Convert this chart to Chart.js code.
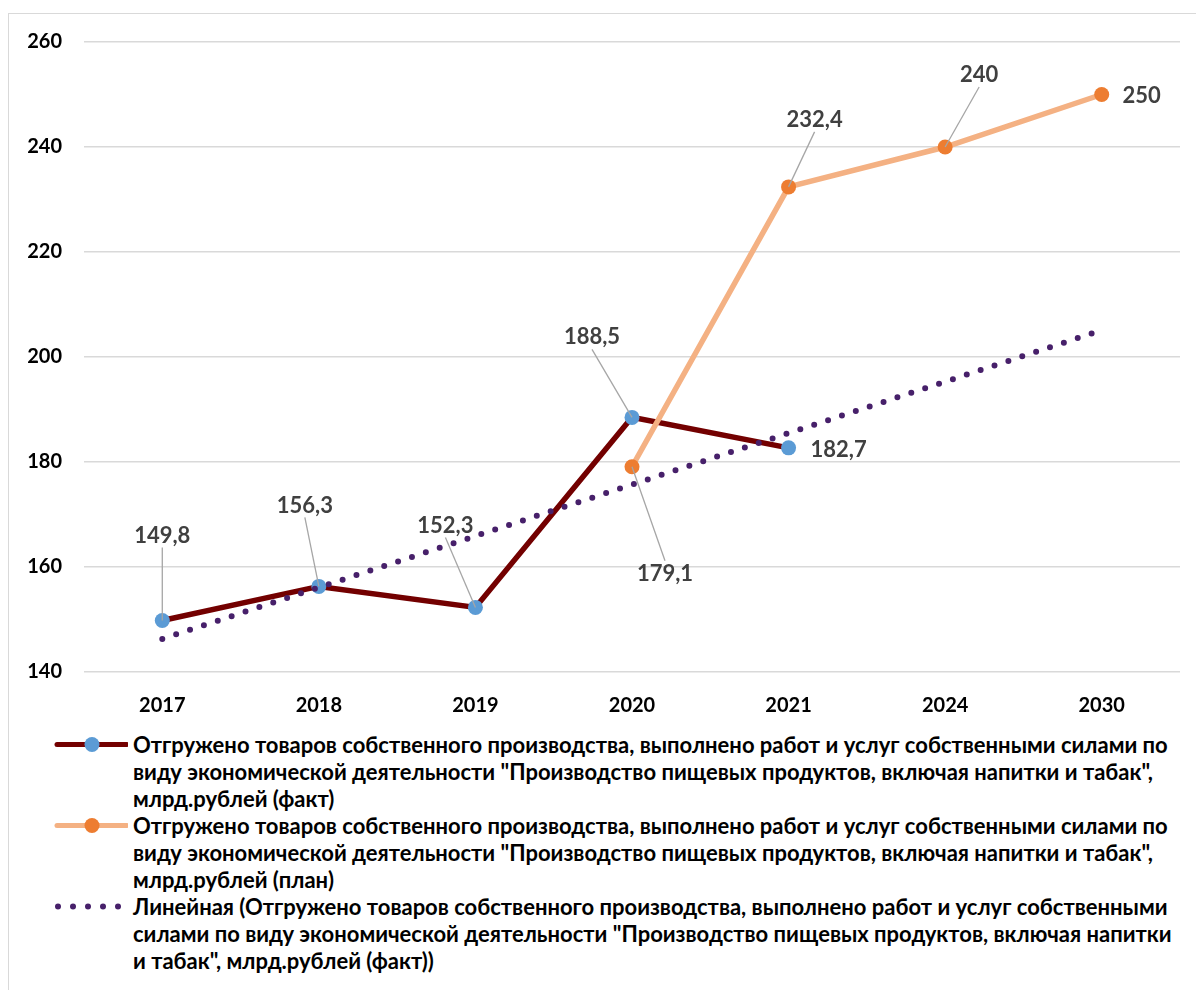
<!DOCTYPE html>
<html>
<head>
<meta charset="utf-8">
<script src="https://cdn.jsdelivr.net/npm/chart.js@4.4.1/dist/chart.umd.min.js"></script>
<style>
  body { margin: 0; background: #fff; }
  #wrap { position: relative; width: 1196px; height: 990px; overflow: hidden; font-family: Lato, sans-serif; }
  #frame { position: absolute; left: 8px; top: 13px; width: 1220px; height: 1000px; border: 1.5px solid #d9d9d9; box-sizing: border-box; }
  #chart_out { position: absolute; left: 0; top: 0; }
  #legend { position: absolute; left: 0; top: 731px; width: 1196px; }
  .lg-item { position: relative; padding-left: 133px; font-weight: bold; font-size: 22px; line-height: 27px; color: #000; white-space: nowrap; }
  .lg-item svg { position: absolute; left: 48px; top: 0; }
</style>
</head>
<body>
<div id="wrap">
  <div id="frame"></div>
  <canvas id="chart_out" width="1196" height="730"></canvas>
  <div id="legend"></div>
</div>
<script>
/* jshint esversion:6*/
const years = ['2017', '2018', '2019', '2020', '2021', '2024', '2030'];
const fact_values = [149.8, 156.3, 152.3, 188.5, 182.7, null, null];
const plan_values = [null, null, null, 179.1, 232.4, 240, 250];
const trend_values = [146.3, 156.1, 165.9, 175.7, 185.5, 195.3, 205.1];
const y_ticks = [140, 160, 180, 200, 220, 240, 260];

const legend_fact = [
  'Отгружено товаров собственного производства, выполнено работ и услуг собственными силами по',
  'виду экономической деятельности "Производство пищевых продуктов, включая напитки и табак",',
  'млрд.рублей (факт)'
];
const legend_plan = [
  'Отгружено товаров собственного производства, выполнено работ и услуг собственными силами по',
  'виду экономической деятельности "Производство пищевых продуктов, включая напитки и табак",',
  'млрд.рублей (план)'
];
const legend_trend = [
  'Линейная (Отгружено товаров собственного производства, выполнено работ и услуг собственными',
  'силами по виду экономической деятельности "Производство пищевых продуктов, включая напитки',
  'и табак", млрд.рублей (факт))'
];

// label offsets from the point: [dx, dy, leader line]
const fact_label_pos = [[0, -85, 1], [-14, -81, 1], [-30, -82, 1], [-40, -80, 1], [50, 2, 0], null, null];
const plan_label_pos = [null, null, null, [33, 107, 1], [26, -67, 1], [34, -72, 1], [40, 1, 0]];

const _f_num = function (v) {
  return String(v).replace('.', ',');
};

const point_labels = {
  id: 'point_labels',
  afterDatasetsDraw(chart) {
    let ctx = chart.ctx;
    ctx.save();
    chart.data.datasets.forEach((ds, di) => {
      if (!ds.label_pos) return;
      let meta = chart.getDatasetMeta(di);
      meta.data.forEach((pt, i) => {
        let off = ds.label_pos[i];
        if (ds.data[i] === null || !off) return;
        let lx = pt.x + off[0], ly = pt.y + off[1];
        if (off[2]) {
          ctx.strokeStyle = '#a6a6a6';
          ctx.lineWidth = 1.3;
          ctx.beginPath();
          ctx.moveTo(pt.x, pt.y);
          ctx.lineTo(lx, off[1] < 0 ? ly + 12 : ly - 13);
          ctx.stroke();
        }
        ctx.fillStyle = '#404040';
        ctx.font = 'bold 22px Lato';
        ctx.textAlign = 'center';
        ctx.textBaseline = 'middle';
        ctx.fillText(_f_num(ds.data[i]), lx, ly);
      });
    });
    ctx.restore();
  }
};

const _f_legend_symbol = function (ds) {
  if (ds.borderDash) {
    let dots = [10, 25, 40, 55, 70].map(x => `<circle cx="${x}" cy="13.5" r="3" fill="${ds.borderColor}"/>`).join('');
    return `<svg width="80" height="27">${dots}</svg>`;
  }
  return `<svg width="80" height="27">
    <line x1="9" y1="13.5" x2="79" y2="13.5" stroke="${ds.borderColor}" stroke-width="5" stroke-linecap="round"/>
    <circle cx="44" cy="13.5" r="7.5" fill="${ds.pointBackgroundColor}"/></svg>`;
};

const _f_chart_paint = function () {
  let ctx = document.getElementById('chart_out').getContext('2d');
  let chartjs = new Chart(ctx, {
    type: 'line',
    data: {
      labels: years,
      datasets: [{
        label: legend_fact.join(' '),
        legend_lines: legend_fact,
        data: fact_values,
        borderColor: '#730000',
        borderWidth: 5.5,
        pointRadius: 7.5,
        pointBackgroundColor: '#5b9bd5',
        pointBorderWidth: 0,
        label_pos: fact_label_pos,
        order: 3
      }, {
        label: legend_plan.join(' '),
        legend_lines: legend_plan,
        data: plan_values,
        borderColor: '#f4b183',
        borderWidth: 5.5,
        pointRadius: 7.5,
        pointBackgroundColor: '#ed7d31',
        pointBorderWidth: 0,
        label_pos: plan_label_pos,
        order: 2
      }, {
        label: legend_trend.join(' '),
        legend_lines: legend_trend,
        data: trend_values,
        borderColor: '#47206a',
        borderWidth: 6,
        borderDash: [0, 14.6],
        borderCapStyle: 'round',
        pointRadius: 0,
        order: 1
      }]
    },
    options: {
      responsive: false,
      animation: false,
      layout: { padding: { top: 42, right: 16, left: 0, bottom: 0 } },
      scales: {
        x: {
          offset: true,
          grid: { display: false },
          border: { display: false },
          ticks: { color: '#000', padding: 14, maxRotation: 0 },
          afterFit: (scale) => { scale.height = 58; }
        },
        y: {
          min: 140,
          max: 260,
          afterBuildTicks: (scale) => { scale.ticks = y_ticks.map(v => ({ value: v })); },
          grid: { color: '#d9d9d9', lineWidth: 1.5, drawTicks: false, tickLength: 0 },
          border: { display: false },
          ticks: { color: '#000', padding: 22 },
          afterFit: (scale) => { scale.width = 84; }
        }
      },
      plugins: {
        legend: { display: false },
        tooltip: { enabled: false }
      }
    },
    plugins: [point_labels]
  });

  let legend_el = document.getElementById('legend');
  chartjs.data.datasets.forEach(ds => {
    legend_el.insertAdjacentHTML('beforeend',
      `<div class="lg-item">${_f_legend_symbol(ds)}${ds.legend_lines.join('<br>')}</div>`);
  });
};

Chart.defaults.font.family = 'Lato';
Chart.defaults.font.size = 20;
Chart.defaults.font.weight = 'bold';

document.fonts.load('bold 20px Lato').then(_f_chart_paint, _f_chart_paint);
</script>
</body>
</html>
